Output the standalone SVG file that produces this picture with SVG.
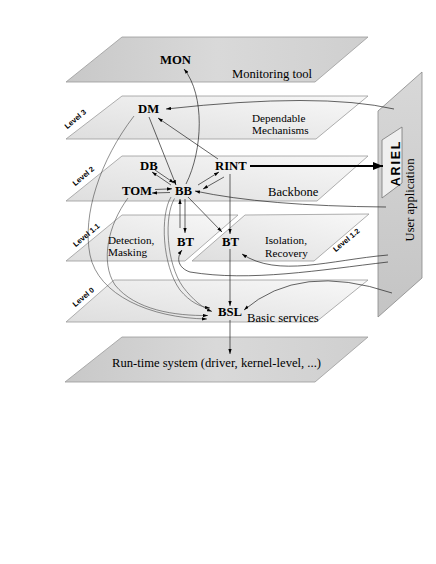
<svg xmlns="http://www.w3.org/2000/svg" width="436" height="564" viewBox="0 0 436 564">
<defs>
<linearGradient id="gDark" x1="0" y1="0" x2="1" y2="0">
<stop offset="0" stop-color="#c8c8c8"/><stop offset="0.5" stop-color="#d9d9d9"/><stop offset="1" stop-color="#cfcfcf"/>
</linearGradient>
<linearGradient id="gLight" x1="0" y1="1" x2="1" y2="0">
<stop offset="0" stop-color="#dedede"/><stop offset="1" stop-color="#f8f8f8"/>
</linearGradient>
<linearGradient id="gPanel" x1="0" y1="0" x2="0" y2="1">
<stop offset="0" stop-color="#d8d8d8"/><stop offset="1" stop-color="#c4c4c4"/>
</linearGradient>
<marker id="ah" viewBox="0 0 6 4" refX="6" refY="2" markerWidth="5" markerHeight="3.6" markerUnits="userSpaceOnUse" orient="auto">
<path d="M0,0 L6,2 L0,4 z" fill="#000"/>
</marker>
<marker id="ahBig" viewBox="0 0 10 8" refX="10" refY="4" markerWidth="10" markerHeight="8" markerUnits="userSpaceOnUse" orient="auto">
<path d="M0,0 L10,4 L0,8 z" fill="#000"/>
</marker>
<style>
.plane{stroke:#9a9a9a;stroke-width:0.8}
.dark{fill:url(#gDark)}
.light{fill:url(#gLight)}
.t{font-family:"Liberation Serif","Times New Roman",serif;font-size:12.6px;fill:#000}
.t2{font-family:"Liberation Serif","Times New Roman",serif;font-size:11.2px;fill:#000}
.n{font-family:"Liberation Serif","Times New Roman",serif;font-size:12.7px;font-weight:bold;fill:#000}
.lv{font-family:"Liberation Sans",Arial,sans-serif;font-size:7.5px;font-weight:bold;fill:#000}
.c{fill:none;stroke:#222;stroke-width:0.7}
.g{fill:none;stroke:#444;stroke-width:0.6}
</style>
</defs>

<g id="planes">
<g id="plane-monitoring"><path class="plane dark" d="M122,37 L368,37 L315,82 L66,82 Z"/></g>
<g id="plane-level3"><path class="plane light" d="M122,96 L368,96 L316,139 L66,139 Z"/></g>
<g id="plane-level2"><path class="plane light" d="M122,156 L368,156 L317,201 L66,201 Z"/></g>
<g id="plane-level11"><path class="plane light" d="M122,215 L238,215 L185,261 L66,261 Z"/></g>
<g id="plane-level12"><path class="plane light" d="M245,215 L369,214 L314,261 L192,261 Z"/></g>
<g id="plane-level0"><path class="plane light" d="M114,280 L368,280 L316,322 L66,322 Z"/></g>
<g id="plane-runtime"><path class="plane dark" d="M122,337 L368,337 L315,382 L65,382 Z"/></g>
</g>

<g id="user-application">
<path d="M378,111 L422,72 L422,278 L378,317 Z" fill="url(#gPanel)" stroke="#888" stroke-width="0.8"/>
<text class="t" transform="translate(414,200) rotate(-90)" text-anchor="middle">User application</text>
</g>
<g id="ariel">
<path d="M382,140 L402,127 L402,183 L382,198 Z" fill="#efefef" stroke="#777" stroke-width="0.8"/>
<text transform="translate(400,163) rotate(-90)" text-anchor="middle" font-family="Liberation Sans, Arial, sans-serif" font-weight="bold" font-size="12.5" letter-spacing="1.8">ARIEL</text>
</g>

<g id="connectors">
<path class="c" d="M186,184 C203,150 205,95 184,69" marker-end="url(#ah)"/>
<path class="c" d="M394,109 Q320,92 166,109" marker-end="url(#ah)"/>
<path class="c" d="M218,159 L158,118" marker-end="url(#ah)"/>
<path class="c" d="M149,117 L176,185" marker-end="url(#ah)"/>
<path class="c" d="M171,185 L152,172" marker-end="url(#ah)"/>
<path class="c" d="M155,170 L174,183" marker-end="url(#ah)"/>
<path class="c" d="M155,189.5 L172,188.8" marker-end="url(#ah)"/>
<path class="c" d="M170,192.5 L152,193" marker-end="url(#ah)"/>
<path class="c" d="M198,185 L219,172" marker-end="url(#ah)"/>
<path class="c" d="M224,177 L203,189" marker-end="url(#ah)"/>
<path d="M250,166 L383,166" stroke="#000" stroke-width="2" fill="none" marker-end="url(#ahBig)"/>
<path class="c" d="M386,207 Q265,206 195,191" marker-end="url(#ah)"/>
<path class="c" d="M180,228 L180,199" marker-end="url(#ah)"/>
<path class="c" d="M185,199 L185,233" marker-end="url(#ah)"/>
<path class="c" d="M188,197 L222,232" marker-end="url(#ah)"/>
<path class="c" d="M230,174 L230,234" marker-end="url(#ah)"/>
<path class="c" d="M230,249 L230,306" marker-end="url(#ah)"/>
<path class="c" d="M230,320 L230,354" marker-end="url(#ah)"/>
<path class="c" d="M388,255 C330,260 278,278 242,254" marker-end="url(#ah)"/>
<path class="c" d="M388,262 C320,270 250,282 190,272 C178,268 176,258 182,250" marker-end="url(#ah)"/>
<path class="c" d="M392,293 Q300,262 244,310" marker-end="url(#ah)"/>
<path class="g" d="M134,116 C100,160 82,215 90,255 C98,295 150,318 207,319" marker-end="url(#ah)"/>
<path class="g" d="M128,198 C108,225 100,262 115,285 C135,310 175,316 208,315.5" marker-end="url(#ah)"/>
<path class="g" d="M171,197 C160,215 162,265 180,290 C190,302 200,307 210,308" marker-end="url(#ah)"/>
<path class="g" d="M174.5,198.5 C164,216 166,263 183,287 C193,300 203,308 212,311.5" marker-end="url(#ah)"/>
</g>

<g id="labels">
<g id="node-mon"><text class="n" x="160" y="64">MON</text></g>
<text class="t" x="232" y="78">Monitoring tool</text>
<g id="node-dm"><text class="n" x="138" y="113">DM</text></g>
<text class="t2" x="252" y="121.5">Dependable</text>
<text class="t2" x="252" y="134.2">Mechanisms</text>
<g id="node-db"><text class="n" x="140" y="170">DB</text></g>
<g id="node-rint"><text class="n" x="215" y="170">RINT</text></g>
<g id="node-tom"><text class="n" x="122" y="195">TOM</text></g>
<g id="node-bb"><text class="n" x="175" y="195">BB</text></g>
<text class="t" x="268" y="196">Backbone</text>
<text class="t2" x="108" y="243.5">Detection,</text>
<text class="t2" x="108" y="256.2">Masking</text>
<g id="node-bt1"><text class="n" x="177" y="246">BT</text></g>
<g id="node-bt2"><text class="n" x="222" y="246">BT</text></g>
<text class="t2" x="265" y="244">Isolation,</text>
<text class="t2" x="265" y="256.7">Recovery</text>
<g id="node-bsl"><text class="n" x="218" y="316">BSL</text></g>
<text class="t" x="247" y="321.5">Basic services</text>
<text class="t" x="112" y="367">Run-time system (driver, kernel-level, ...)</text>
<text class="lv" transform="translate(77,121) rotate(-40)" text-anchor="middle">Level 3</text>
<text class="lv" transform="translate(85,178) rotate(-40)" text-anchor="middle">Level 2</text>
<text class="lv" transform="translate(88,237) rotate(-40)" text-anchor="middle">Level 1.1</text>
<text class="lv" transform="translate(85,299) rotate(-40)" text-anchor="middle">Level 0</text>
<text class="lv" transform="translate(348,242) rotate(-40)" text-anchor="middle">Level 1.2</text>
</g>
</svg>
